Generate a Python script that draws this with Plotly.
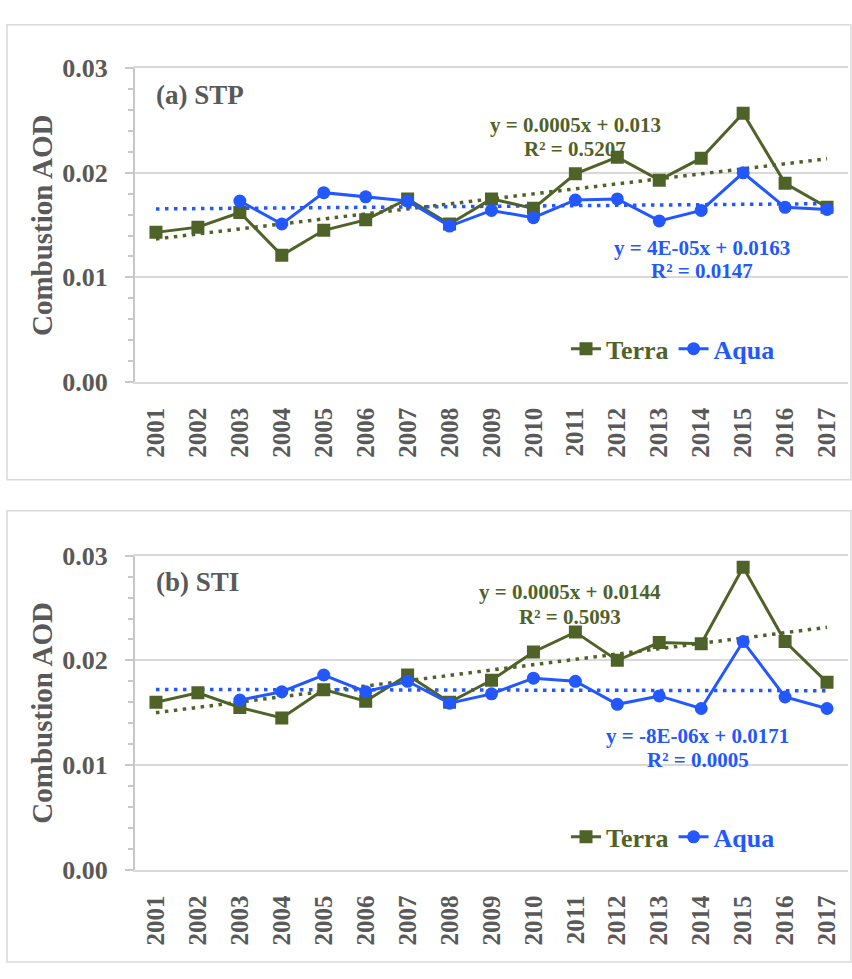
import numpy as np
import plotly.graph_objects as go

# ---- data ---------------------------------------------------------------
years = [str(y) for y in range(2001, 2018)]
xidx = list(range(1, 18))

stp_terra = [0.0143, 0.0148, 0.0162, 0.0121, 0.0145, 0.0155, 0.0175, 0.0151, 0.0175,
             0.0166, 0.0199, 0.0215, 0.0193, 0.0214, 0.0257, 0.0190, 0.0167]
stp_aqua = [None, None, 0.0173, 0.0151, 0.0181, 0.0177, 0.0173, 0.0149, 0.0164,
            0.0157, 0.0174, 0.0175, 0.0154, 0.0164, 0.0200, 0.0167, 0.0165]

sti_terra = [0.0160, 0.0169, 0.0155, 0.0145, 0.0172, 0.0161, 0.0186, 0.0160, 0.0181,
             0.0208, 0.0227, 0.0200, 0.0217, 0.0216, 0.0289, 0.0218, 0.0179]
sti_aqua = [None, None, 0.0162, 0.0170, 0.0186, 0.0170, 0.0180, 0.0159, 0.0168,
            0.0183, 0.0180, 0.0158, 0.0166, 0.0154, 0.0218, 0.0165, 0.0154]

panel_titles = ["(a) STP", "(b) STI"]
terra_eq = [("y = 0.0005x + 0.013", "R² = 0.5207"), ("y = 0.0005x + 0.0144", "R² = 0.5093")]
aqua_eq = [("y = 4E-05x + 0.0163", "R² = 0.0147"), ("y = -8E-06x + 0.0171", "R² = 0.0005")]

# ---- style --------------------------------------------------------------
W, H = 852, 979
TERRA = "#4F6228"
AQUA = "#2357FF"
GREY = "#595959"
LIGHT = "#D9D9D9"
AXIS = "#C8C8C8"
SERIF = "Liberation Serif"


def px_x(p):
    return p / W


def px_y(p):
    return 1 - p / H


x_dom = [px_x(135), px_x(848)]
y_doms = [[px_y(379), px_y(56)], [px_y(881.7), px_y(558.3)]]

fig = go.Figure()


def trend(xs, ys):
    pts = [(x, y) for x, y in zip(xs, ys) if y is not None]
    a, b = np.polyfit([p[0] for p in pts], [p[1] for p in pts], 1)
    xe = [xs[0], xs[-1]]
    return xe, [a * v + b for v in xe]


panels = [(stp_terra, stp_aqua), (sti_terra, sti_aqua)]
for i, (terra, aqua) in enumerate(panels):
    sfx = "" if i == 0 else str(i + 1)
    xa, ya = "x" + sfx, "y" + sfx
    leg = "legend" if i == 0 else "legend2"

    for ys, col in ((terra, TERRA), (aqua, AQUA)):
        tx, ty = trend(xidx, ys)
        fig.add_trace(go.Scatter(x=tx, y=ty, mode="lines", xaxis=xa, yaxis=ya,
                                 line=dict(color=col, width=3.5, dash="3.5px,5.5px"),
                                 showlegend=False, hoverinfo="skip"))

    fig.add_trace(go.Scatter(x=xidx, y=terra, mode="lines+markers", xaxis=xa, yaxis=ya,
                             name=f"<span style='color:{TERRA}'>Terra</span>", legend=leg,
                             line=dict(color=TERRA, width=3),
                             marker=dict(symbol="square", size=13, color=TERRA)))
    fig.add_trace(go.Scatter(x=xidx, y=aqua, mode="lines+markers", xaxis=xa, yaxis=ya,
                             name=f"<span style='color:{AQUA}'>Aqua</span>", legend=leg,
                             line=dict(color=AQUA, width=3),
                             marker=dict(symbol="circle", size=13, color=AQUA)))

    fig.update_layout({
        "xaxis" + sfx: dict(domain=x_dom, anchor=ya, range=[0.5, 17.5],
                            tickmode="array", tickvals=xidx, ticktext=years,
                            tickangle=-90, ticks="", ticklabelstandoff=14,
                            tickfont=dict(family=SERIF, size=25, color=GREY, weight="bold"),
                            showline=True, linecolor=LIGHT, linewidth=2, mirror=True,
                            showgrid=False, zeroline=False, fixedrange=True),
        "yaxis" + sfx: dict(domain=y_doms[i], anchor=xa, range=[0, 0.03], dtick=0.01,
                            tickformat=".2f", ticks="outside", ticklen=8, tickcolor=AXIS,
                            tickwidth=1.5, ticklabelstandoff=12,
                            minor=dict(dtick=0.002, ticks="outside", ticklen=5,
                                       tickcolor=AXIS, tickwidth=1.5, showgrid=False),
                            tickfont=dict(family=SERIF, size=26, color=GREY, weight="bold"),
                            showline=True, linecolor=AXIS, linewidth=2,
                            showgrid=True, gridcolor=LIGHT, gridwidth=1.5,
                            zeroline=False, fixedrange=True),
    })

    # panel frame
    top = 11 if i == 0 else 512
    bot = 480 if i == 0 else 977
    fig.add_shape(type="rect", xref="paper", yref="paper",
                  x0=px_x(7), x1=px_x(851), y0=px_y(bot), y1=px_y(top),
                  line=dict(color=LIGHT, width=1.5), fillcolor="rgba(0,0,0,0)", layer="below")

    # panel label
    ty = 83 if i == 0 else 585
    fig.add_annotation(xref="paper", yref="paper", x=px_x(154), y=px_y(ty),
                       xanchor="left", yanchor="middle", showarrow=False,
                       text=panel_titles[i],
                       font=dict(family=SERIF, size=27, color=GREY, weight="bold"))

    # y-axis title
    cy = (56 + 379) / 2 if i == 0 else (558.3 + 881.7) / 2
    fig.add_annotation(xref="paper", yref="paper", x=px_x(42), y=px_y(cy),
                       xanchor="center", yanchor="middle", showarrow=False, textangle=-90,
                       text="Combustion AOD",
                       font=dict(family=SERIF, size=29, color=GREY, weight="bold"))

    # trendline equations
    eq_pos = [((11.0, 0.0246), (11.0, 0.0223), (14.03, 0.0128), (14.03, 0.01058)),
              ((10.86, 0.0265), (10.86, 0.02418), (13.92, 0.01277), (13.92, 0.01045))][i]
    texts = [(terra_eq[i][0], TERRA), (terra_eq[i][1], TERRA),
             (aqua_eq[i][0], AQUA), (aqua_eq[i][1], AQUA)]
    for (px_, py_), (t, c) in zip(eq_pos, texts):
        fig.add_annotation(xref=xa, yref=ya, x=px_, y=py_, showarrow=False,
                           xanchor="center", yanchor="middle", text=t,
                           font=dict(family=SERIF, size=21, color=c, weight="bold"))

legend_common = dict(orientation="h", xanchor="left", yanchor="middle",
                     bgcolor="rgba(0,0,0,0)", itemwidth=30, tracegroupgap=0,
                     font=dict(family=SERIF, size=26, color=GREY, weight="bold"))
fig.update_layout(
    width=W, height=H, margin=dict(l=0, r=0, t=0, b=0),
    paper_bgcolor="white", plot_bgcolor="white",
    legend=dict(x=px_x(566), y=px_y(345), **legend_common),
    legend2=dict(x=px_x(566), y=px_y(848), **legend_common),
)

fig.write_html("out.html")
